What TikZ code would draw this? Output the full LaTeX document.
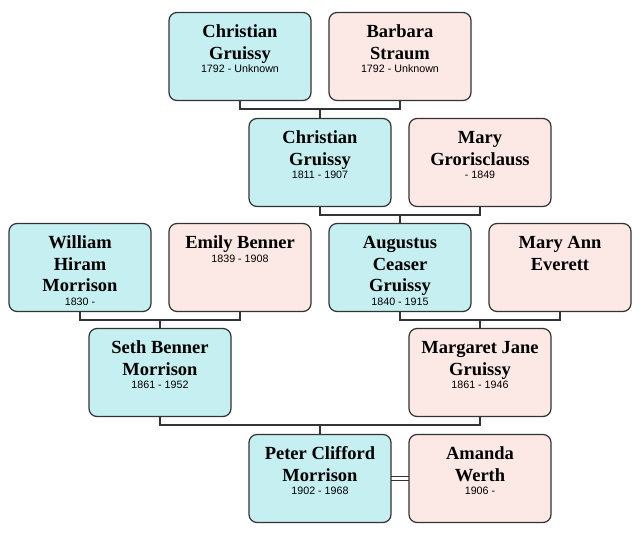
\documentclass[tikz,border=0pt]{standalone}
\usepackage{fontspec}
\setmainfont{Liberation Serif}
\newfontfamily\namefam{Liberation Serif}
\newfontfamily\datefam{Liberation Sans}
\usetikzlibrary{calc}
\definecolor{maleFill}{RGB}{198,239,241}
\definecolor{femaleFill}{RGB}{252,233,229}
\definecolor{lineCol}{RGB}{51,51,51}
\tikzset{
  personbox/.style={draw=lineCol, line width=1.2pt, rounded corners=8pt, minimum width=142pt, minimum height=88pt, inner sep=0pt, outer sep=0pt},
  male/.style={personbox, fill=maleFill},
  female/.style={personbox, fill=femaleFill},
  nametext/.style={anchor=north, inner sep=0pt, align=center, font=\namefam\bfseries\fontsize{18.5}{21.5}\selectfont, text=black},
  link/.style={draw=lineCol, line width=1.6pt},
  marriageline/.style={draw=lineCol, line width=1pt}
}
\newcommand\datetxt[1]{{\datefam\mdseries\fontsize{10.7}{13}\selectfont #1}}
\newcommand\person[5]{%
  \node[#3] (#1) at #2 {};
  \node[nametext] (#1t) at ([yshift=-11pt]#1.north) {\rule{0pt}{14pt}#4\\[-8.2pt]\datetxt{#5}};
}
\begin{document}
\begin{tikzpicture}[x=1pt, y=-1pt]
\useasboundingbox (0,0) rectangle (640,538);
% row 1
\person{cga}{(240,56.5)}{male}{Christian\\Gruissy}{1792 - Unknown}
\person{bs}{(400,56.5)}{female}{Barbara\\Straum}{1792 - Unknown}
% row 2
\person{cgb}{(320,162.5)}{male}{Christian\\Gruissy}{1811 - 1907}
\person{mg}{(480,162.5)}{female}{Mary\\Grorisclauss}{- 1849}
% row 3
\person{whm}{(80,267.5)}{male}{William\\Hiram\\Morrison}{1830 -}
\person{eb}{(240,267.5)}{female}{Emily Benner}{1839 - 1908}
\person{acg}{(400,267.5)}{male}{Augustus\\Ceaser\\Gruissy}{1840 - 1915}
\node[female] (mae) at (560,267.5) {};
\node[nametext] (maet) at ([yshift=-11pt]mae.north) {\rule{0pt}{14pt}Mary Ann\\Everett};
% row 4
\person{sbm}{(160,372.5)}{male}{Seth Benner\\Morrison}{1861 - 1952}
\person{mjg}{(480,372.5)}{female}{Margaret Jane\\Gruissy}{1861 - 1946}
% row 5
\person{pcm}{(320,478.5)}{male}{Peter Clifford\\Morrison}{1902 - 1968}
\person{aw}{(480,478.5)}{female}{Amanda\\Werth}{1906 -}
% connectors
\coordinate (j1) at ($(cga.south)!0.5!(bs.south)+(0,8.5)$);
\draw[link] (cga.south) |- (j1) -| (bs.south);
\draw[link] (j1) -- (cgb.north);
\coordinate (j2) at ($(cgb.south)!0.5!(mg.south)+(0,8.5)$);
\draw[link] (cgb.south) |- (j2) -| (mg.south);
\draw[link] (j2) -- (acg.north);
\coordinate (j3) at ($(whm.south)!0.5!(eb.south)+(0,8.5)$);
\draw[link] (whm.south) |- (j3) -| (eb.south);
\draw[link] (j3) -- (sbm.north);
\coordinate (j4) at ($(acg.south)!0.5!(mae.south)+(0,8.5)$);
\draw[link] (acg.south) |- (j4) -| (mae.south);
\draw[link] (j4) -- (mjg.north);
\coordinate (j5) at ($(sbm.south)!0.5!(mjg.south)+(0,8.5)$);
\draw[link] (sbm.south) |- (j5) -| (mjg.south);
\draw[link] (j5) -- (pcm.north);
\draw[marriageline] ([yshift=1.8pt]pcm.east) -- ([yshift=1.8pt]aw.west);
\draw[marriageline] ([yshift=-1.8pt]pcm.east) -- ([yshift=-1.8pt]aw.west);
\end{tikzpicture}
\end{document}
